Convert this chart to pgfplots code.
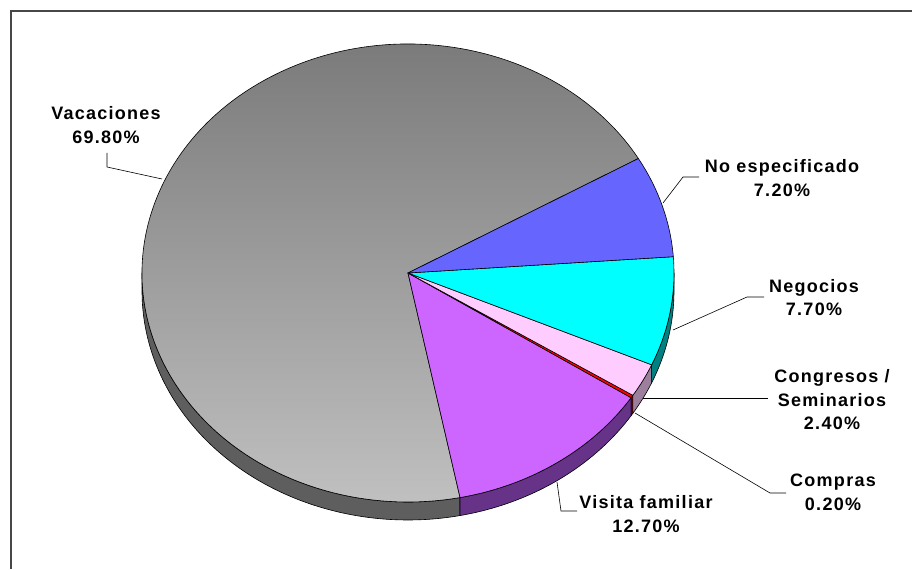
\documentclass[border=0pt]{standalone}
\usepackage{pgfplots}
\pgfplotsset{compat=1.18}
\usepackage{fontspec}
\setmainfont{Liberation Sans}
\definecolor{vacTop}{HTML}{767676}
\definecolor{vacBot}{HTML}{C2C2C2}
\definecolor{vacSide}{HTML}{5E5E5E}
\definecolor{noesp}{HTML}{6666FF}
\definecolor{neg}{HTML}{00FFFF}
\definecolor{negSide}{HTML}{008080}
\definecolor{con}{HTML}{FFCCFF}
\definecolor{conSide}{HTML}{9C7F9C}
\definecolor{com}{HTML}{FF0000}
\definecolor{comSide}{HTML}{8C0000}
\definecolor{vis}{HTML}{CC66FF}
\definecolor{visSide}{HTML}{663388}
\newcommand\labfont{\bfseries\addfontfeature{LetterSpace=7}\fontsize{18bp}{23.5bp}\selectfont}
% shares (percent), counter-clockwise from the start angle
\def\pVac{69.8}\def\pVis{12.7}\def\pCom{0.2}\def\pCon{2.4}\def\pNeg{7.7}\def\pNo{7.2}
\def\cx{408}\def\cy{296}\def\rx{266}\def\ry{229}\def\dep{18}
\pgfmathsetmacro\aVac{30}
\pgfmathsetmacro\aVis{\aVac+\pVac*3.6}
\pgfmathsetmacro\aCom{\aVis+\pVis*3.6}
\pgfmathsetmacro\aCon{\aCom+\pCom*3.6}
\pgfmathsetmacro\aNeg{\aCon+\pCon*3.6}
\pgfmathsetmacro\aNo{\aNeg+\pNeg*3.6}
\pgfmathsetmacro\aEnd{\aNo+\pNo*3.6}
\newcommand\sideface[3]{%
  \filldraw[fill=#1, draw=black, line width=0.6bp, line join=round]
    ({\cx+\rx*cos(#2)},{\cy+\ry*sin(#2)})
    arc[start angle=#2, end angle=#3, x radius=\rx bp, y radius=\ry bp]
    -- ++(0,-\dep bp)
    arc[start angle=#3, end angle=#2, x radius=\rx bp, y radius=\ry bp] -- cycle;}
\newcommand\topface[3]{%
  \filldraw[fill=#1, draw=black, line width=0.6bp, line join=round]
    (\cx,\cy) -- ({\cx+\rx*cos(#2)},{\cy+\ry*sin(#2)})
    arc[start angle=#2, end angle=#3, x radius=\rx bp, y radius=\ry bp] -- cycle;}
\begin{document}
\begin{tikzpicture}
\begin{axis}[
  scale only axis, width=913bp, height=569bp,
  xmin=0, xmax=913, ymin=0, ymax=569,
  hide axis, clip=false]
\path (0,0) rectangle (913,569);
\draw[line width=2bp, color=black!72] (11,0) -- (11,558) -- (912,558);
% side faces
\sideface{vacSide}{180}{\aVis}
\sideface{visSide}{\aVis}{\aCom}
\sideface{comSide}{\aCom}{\aCon}
\sideface{conSide}{\aCon}{\aNeg}
\sideface{negSide}{\aNeg}{360}
% top faces
\shadedraw[top color=vacTop, bottom color=vacBot, draw=black, line width=0.6bp, line join=round]
    (\cx,\cy) -- ({\cx+\rx*cos(\aVac)},{\cy+\ry*sin(\aVac)})
    arc[start angle=\aVac, end angle=\aVis, x radius=\rx bp, y radius=\ry bp] -- cycle;
\topface{vis}{\aVis}{\aCom}
\topface{com}{\aCom}{\aCon}
\topface{con}{\aCon}{\aNeg}
\topface{neg}{\aNeg}{\aNo}
\topface{noesp}{\aNo}{\aEnd}
% leader lines
\draw[line width=0.6bp] (107,416) -- (107,402) -- (162,390);
\draw[line width=0.6bp] (663,366) -- (683,392) -- (699,392);
\draw[line width=0.6bp] (673,239) -- (747,272) -- (764,272);
\draw[line width=0.6bp] (643,171) -- (768,171);
\draw[line width=0.6bp] (635,156) -- (770,76) -- (786,76);
\draw[line width=0.6bp] (557,87) -- (561,58) -- (577,58);
% labels
\node[align=center, font=\labfont] at (106,444) {Vacaciones\\69.80\%};
\node[align=center, font=\labfont] at (782,391) {No especificado\\7.20\%};
\node[align=center, font=\labfont] at (814,271.5) {Negocios\\7.70\%};
\node[align=center, font=\labfont] at (832,169) {Congresos /\\Seminarios\\2.40\%};
\node[align=center, font=\labfont] at (833,76.5) {Compras\\0.20\%};
\node[align=center, font=\labfont] at (646,55) {Visita familiar\\12.70\%};
\end{axis}
\end{tikzpicture}
\end{document}
